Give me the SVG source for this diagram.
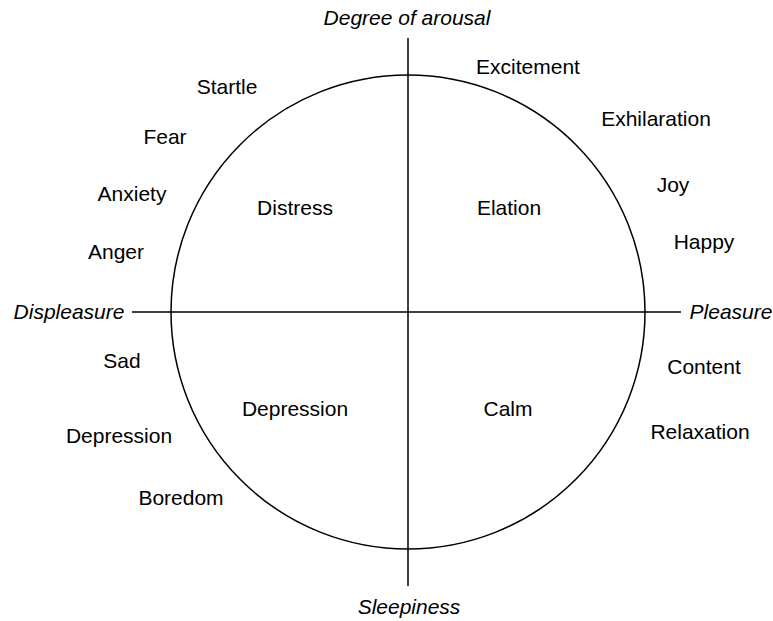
<svg xmlns="http://www.w3.org/2000/svg" width="773" height="621" viewBox="0 0 773 621">
  <style>
    .line { fill: none; stroke: #000; stroke-width: 1.5; }
    text { font-family: "Liberation Sans", Arial, sans-serif; font-size: 21px; fill: #000; text-anchor: middle; }
    .axis { font-style: italic; }
  </style>
  <rect width="773" height="621" fill="#fff"/>
  <g id="connectors">
    <circle class="line" cx="408" cy="312" r="237"/>
    <line class="line" x1="408" y1="38" x2="408" y2="586"/>
    <line class="line" x1="132" y1="312" x2="681" y2="312"/>
  </g>
  <g id="axis-labels">
    <text class="axis" x="407" y="25">Degree of arousal</text>
    <text class="axis" x="69" y="319">Displeasure</text>
    <text class="axis" x="731" y="319">Pleasure</text>
    <text class="axis" x="409" y="614">Sleepiness</text>
  </g>
  <g id="quadrants">
    <text x="295" y="215">Distress</text>
    <text x="509" y="215">Elation</text>
    <text x="295" y="416">Depression</text>
    <text x="508" y="416">Calm</text>
  </g>
  <g id="emotions">
    <text x="227" y="94">Startle</text>
    <text x="528" y="74">Excitement</text>
    <text x="656" y="126">Exhilaration</text>
    <text x="165" y="144">Fear</text>
    <text x="673" y="192">Joy</text>
    <text x="132" y="201">Anxiety</text>
    <text x="116" y="259">Anger</text>
    <text x="704" y="249">Happy</text>
    <text x="122" y="368">Sad</text>
    <text x="704" y="374">Content</text>
    <text x="119" y="443">Depression</text>
    <text x="700" y="439">Relaxation</text>
    <text x="181" y="505">Boredom</text>
  </g>
</svg>
